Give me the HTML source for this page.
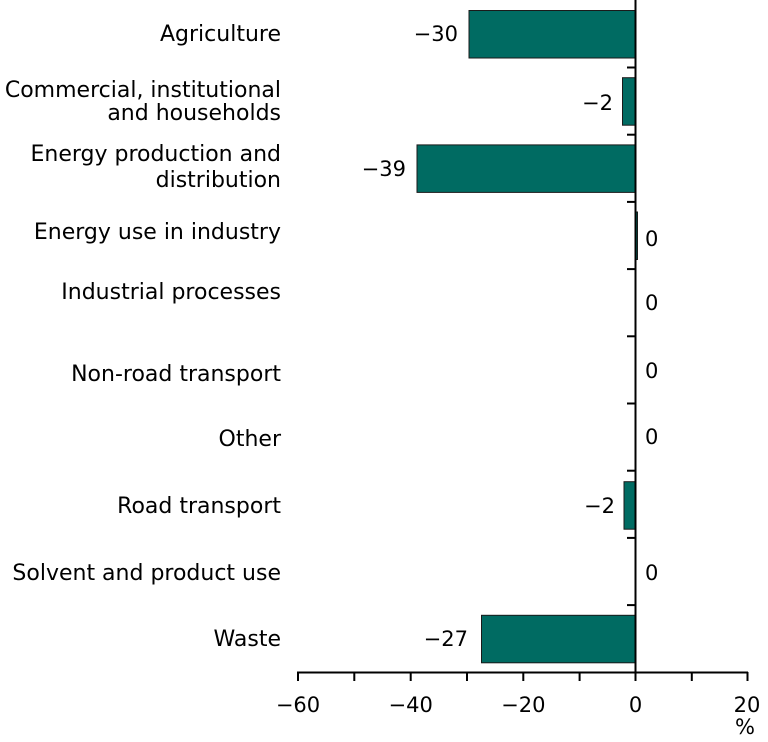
<!DOCTYPE html>
<html><head><meta charset="utf-8"><style>
html,body{margin:0;padding:0;background:#fff;}
svg{display:block;}
text{font-family:"DejaVu Sans","Liberation Sans",sans-serif;font-size:21px;fill:#000;}
text.l{font-size:22px;}
</style></head><body>
<svg width="768" height="742" viewBox="0 0 768 742" xmlns="http://www.w3.org/2000/svg">
<g fill="#006b62" stroke="#1a1a1a" stroke-width="1">
<rect x="469" y="10.5" width="166.5" height="47.5"/>
<rect x="622.5" y="77.7" width="13" height="47.5"/>
<rect x="417" y="144.9" width="218.5" height="47.5"/>
<rect x="635.5" y="212" width="2" height="47.5"/>
<rect x="624" y="481.7" width="11.5" height="47.5"/>
<rect x="481.5" y="615.3" width="154" height="47.5"/>
</g>
<g stroke="#000" stroke-width="2" fill="none">
<line x1="635.5" y1="0" x2="635.5" y2="673"/>
<line x1="297" y1="672.5" x2="748" y2="672.5"/>
<line x1="298" y1="672" x2="298" y2="681"/>
<line x1="354.3" y1="672" x2="354.3" y2="681"/>
<line x1="410.7" y1="672" x2="410.7" y2="681"/>
<line x1="467" y1="672" x2="467" y2="681"/>
<line x1="523.3" y1="672" x2="523.3" y2="681"/>
<line x1="579.6" y1="672" x2="579.6" y2="681"/>
<line x1="635.5" y1="672" x2="635.5" y2="681"/>
<line x1="691.8" y1="672" x2="691.8" y2="681"/>
<line x1="747.5" y1="672" x2="747.5" y2="681"/>
<line x1="627" y1="67.5" x2="636" y2="67.5"/>
<line x1="627" y1="134.7" x2="636" y2="134.7"/>
<line x1="627" y1="201.9" x2="636" y2="201.9"/>
<line x1="627" y1="269.1" x2="636" y2="269.1"/>
<line x1="627" y1="336.3" x2="636" y2="336.3"/>
<line x1="627" y1="403.5" x2="636" y2="403.5"/>
<line x1="627" y1="470.7" x2="636" y2="470.7"/>
<line x1="627" y1="537.9" x2="636" y2="537.9"/>
<line x1="627" y1="605.1" x2="636" y2="605.1"/>
</g>
<g text-anchor="end">
<text class="l" x="281" y="41">Agriculture</text>
<text class="l" x="281" y="97">Commercial, institutional</text>
<text class="l" x="281" y="120">and households</text>
<text class="l" x="281" y="161">Energy production and</text>
<text class="l" x="281" y="187">distribution</text>
<text class="l" x="281" y="239">Energy use in industry</text>
<text class="l" x="281" y="299">Industrial processes</text>
<text class="l" x="281" y="381">Non-road transport</text>
<text class="l" x="281" y="446">Other</text>
<text class="l" x="281" y="513">Road transport</text>
<text class="l" x="281" y="580">Solvent and product use</text>
<text class="l" x="281" y="646">Waste</text>
<text x="458" y="41">−30</text>
<text x="613" y="110">−2</text>
<text x="406" y="176">−39</text>
<text x="615" y="513">−2</text>
<text x="468" y="646">−27</text>
</g>
<g>
<text x="645" y="246">0</text>
<text x="645" y="310">0</text>
<text x="645" y="378">0</text>
<text x="645" y="444">0</text>
<text x="645" y="580">0</text>
</g>
<g text-anchor="middle">
<text x="298" y="712">−60</text>
<text x="410.7" y="712">−40</text>
<text x="523.3" y="712">−20</text>
<text x="635.5" y="712">0</text>
<text x="747" y="712">20</text>
</g>
<text x="745" y="734" text-anchor="middle">%</text>
</svg>
</body></html>
